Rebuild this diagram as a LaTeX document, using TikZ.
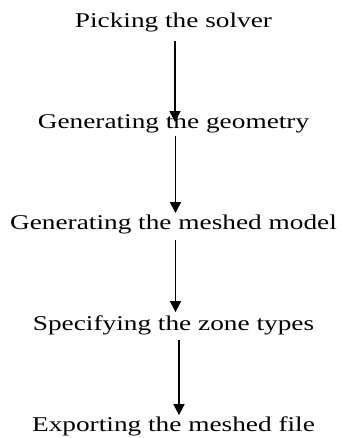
\documentclass[tikz,border=0pt]{standalone}
\usepackage{fontspec}
\setmainfont[FakeStretch=1.3]{Liberation Serif}
\usetikzlibrary{positioning,arrows.meta}

\begin{document}
\begin{tikzpicture}[>={Triangle[length=11pt,width=11pt]},node distance=101pt,
    stage/.style={font=\fontsize{21}{25}\selectfont},
    flow/.style={->,line width=1.6pt}]
  \useasboundingbox (0,0) rectangle (341pt,-438pt);
  \node[stage] (solver) at (173.5pt,-22pt) {Picking the solver};
  \node[stage,below of=solver] (geom) {Generating the geometry};
  \node[stage,below of=geom] (mesh) {Generating the meshed model};
  \node[stage,below of=mesh] (zones) {Specifying the zone types};
  \node[stage,below of=zones] (export) {Exporting the meshed file};
  \draw[flow] ([xshift=1.5pt,yshift=-14pt]solver.base) -- ([xshift=1.5pt,yshift=6pt]geom.base);
  \draw[flow] ([xshift=2pt,yshift=-8pt]geom.base) -- ([xshift=2pt,yshift=16pt]mesh.base);
  \draw[flow] ([xshift=2pt,yshift=-11pt]mesh.base) -- ([xshift=2pt,yshift=18pt]zones.base);
  \draw[flow] ([xshift=5.5pt,yshift=-10pt]zones.base) -- ([xshift=5.5pt,yshift=16pt]export.base);
\end{tikzpicture}
\end{document}
